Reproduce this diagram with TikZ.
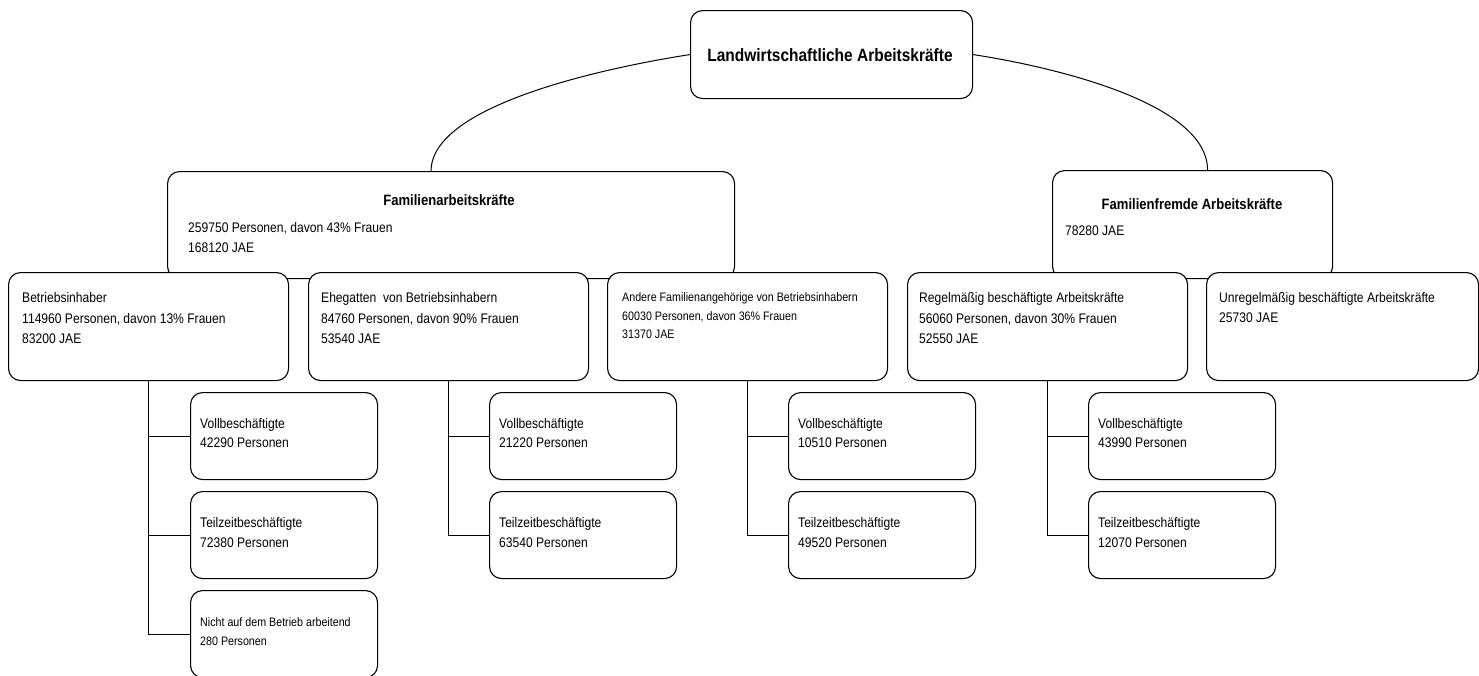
\documentclass[tikz,border=0pt]{standalone}
\usepackage{fontspec}
\setmainfont{Liberation Sans}[FakeStretch=0.87]
\begin{document}
\begin{tikzpicture}[x=1pt,y=-1pt,
  box/.style 2 args={draw, line width=1.1pt, rounded corners=12pt, fill=white,
     anchor=north west, inner sep=0pt, minimum width=#1pt, minimum height=#2pt},
  conn/.style={line width=1pt},
  tx/.style={anchor=base west, inner sep=0pt, font=\fontsize{13.9}{16}\selectfont},
  txs/.style={anchor=base west, inner sep=0pt, font=\fontsize{12.3}{14}\selectfont},
  ttl/.style={anchor=base, inner sep=0pt, font=\fontsize{15}{17}\selectfont\bfseries},
  ttop/.style={anchor=base, inner sep=0pt, font=\fontsize{17.8}{20}\selectfont\bfseries}]
\useasboundingbox (0,0) rectangle (1479,675);

% level 1 and 2
\node[box={282}{88}] (top) at (690,10) {};
\node[box={567}{107}] (fam) at (167,171) {};
\node[box={280}{108}] (ffr) at (1052,170) {};

% level 3
\node[box={280}{108}] (b1) at (8,272) {};
\node[box={280}{108}] (b2) at (308,272) {};
\node[box={280}{108}] (b3) at (607,272) {};
\node[box={280}{108}] (b4) at (907,272) {};
\node[box={272}{108}] (b5) at (1206,272) {};

% curves from top
\draw[conn] (top.west) .. controls +(-90,14) and +(0,-65) .. ([xshift=-20pt]fam.north);
\draw[conn] (top.east) .. controls +(90,14) and +(0,-65) .. ([xshift=15pt]ffr.north);

% children
\node[box={187}{87}] (c11) at (190,392) {};
\node[box={187}{87}] (c12) at (190,491) {};
\node[box={187}{87}] (c13) at (190,590) {};
\node[box={187}{87}] (c21) at (489,392) {};
\node[box={187}{87}] (c22) at (489,491) {};
\node[box={187}{87}] (c31) at (788,392) {};
\node[box={187}{87}] (c32) at (788,491) {};
\node[box={187}{87}] (c41) at (1088,392) {};
\node[box={187}{87}] (c42) at (1088,491) {};

% child connectors
\draw[conn] (b1.south) |- (c13.west);
\draw[conn] (b1.south |- c11.west) -- (c11.west);
\draw[conn] (b1.south |- c12.west) -- (c12.west);
\draw[conn] (b2.south) |- (c22.west);
\draw[conn] (b2.south |- c21.west) -- (c21.west);
\draw[conn] (b3.south) |- (c32.west);
\draw[conn] (b3.south |- c31.west) -- (c31.west);
\draw[conn] (b4.south) |- (c42.west);
\draw[conn] (b4.south |- c41.west) -- (c41.west);

% texts
\node[ttop] (ttop1) at (830,61) {Landwirtschaftliche Arbeitskräfte};

\node[ttl] (tfam) at (449,205) {Familienarbeitskräfte};
\node[tx] (tfam1) at (188,232.5) {259750 Personen, davon 43\% Frauen};
\node[tx] (tfam2) at (188,252.5) {168120 JAE};

\node[ttl] (tffr) at (1192,209) {Familienfremde Arbeitskräfte};
\node[tx] (tffr1) at (1065,235) {78280 JAE};

\node[tx] (tb1a) at (22,302.5) {Betriebsinhaber};
\node[tx] (tb1b) at (22,323) {114960 Personen, davon 13\% Frauen};
\node[tx] (tb1c) at (22,343.5) {83200 JAE};

\node[tx] (tb2a) at (321,302.5) {Ehegatten~ von Betriebsinhabern};
\node[tx] (tb2b) at (321,323) {84760 Personen, davon 90\% Frauen};
\node[tx] (tb2c) at (321,343.5) {53540 JAE};

\node[txs] (tb3a) at (622,301) {Andere Familienangehörige von Betriebsinhabern};
\node[txs] (tb3b) at (622,320) {60030 Personen, davon 36\% Frauen};
\node[txs] (tb3c) at (622,338) {31370 JAE};

\node[tx] (tb4a) at (919,302.5) {Regelmäßig beschäftigte Arbeitskräfte};
\node[tx] (tb4b) at (919,323) {56060 Personen, davon 30\% Frauen};
\node[tx] (tb4c) at (919,343.5) {52550 JAE};

\node[tx] (tb5a) at (1219,302.5) {Unregelmäßig beschäftigte Arbeitskräfte};
\node[tx] (tb5b) at (1219,322) {25730 JAE};

\node[tx] (tc11a) at (200,428.5) {Vollbeschäftigte};
\node[tx] (tc11b) at (200,447.5) {42290 Personen};
\node[tx] (tc12a) at (200,527.5) {Teilzeitbeschäftigte};
\node[tx] (tc12b) at (200,547.5) {72380 Personen};
\node[txs] (tc13a) at (200,626) {Nicht auf dem Betrieb arbeitend};
\node[txs] (tc13b) at (200,645) {280 Personen};

\node[tx] (tc21a) at (499,428.5) {Vollbeschäftigte};
\node[tx] (tc21b) at (499,447.5) {21220 Personen};
\node[tx] (tc22a) at (499,527.5) {Teilzeitbeschäftigte};
\node[tx] (tc22b) at (499,547.5) {63540 Personen};

\node[tx] (tc31a) at (798,428.5) {Vollbeschäftigte};
\node[tx] (tc31b) at (798,447.5) {10510 Personen};
\node[tx] (tc32a) at (798,527.5) {Teilzeitbeschäftigte};
\node[tx] (tc32b) at (798,547.5) {49520 Personen};

\node[tx] (tc41a) at (1098,428.5) {Vollbeschäftigte};
\node[tx] (tc41b) at (1098,447.5) {43990 Personen};
\node[tx] (tc42a) at (1098,527.5) {Teilzeitbeschäftigte};
\node[tx] (tc42b) at (1098,547.5) {12070 Personen};
\end{tikzpicture}
\end{document}
